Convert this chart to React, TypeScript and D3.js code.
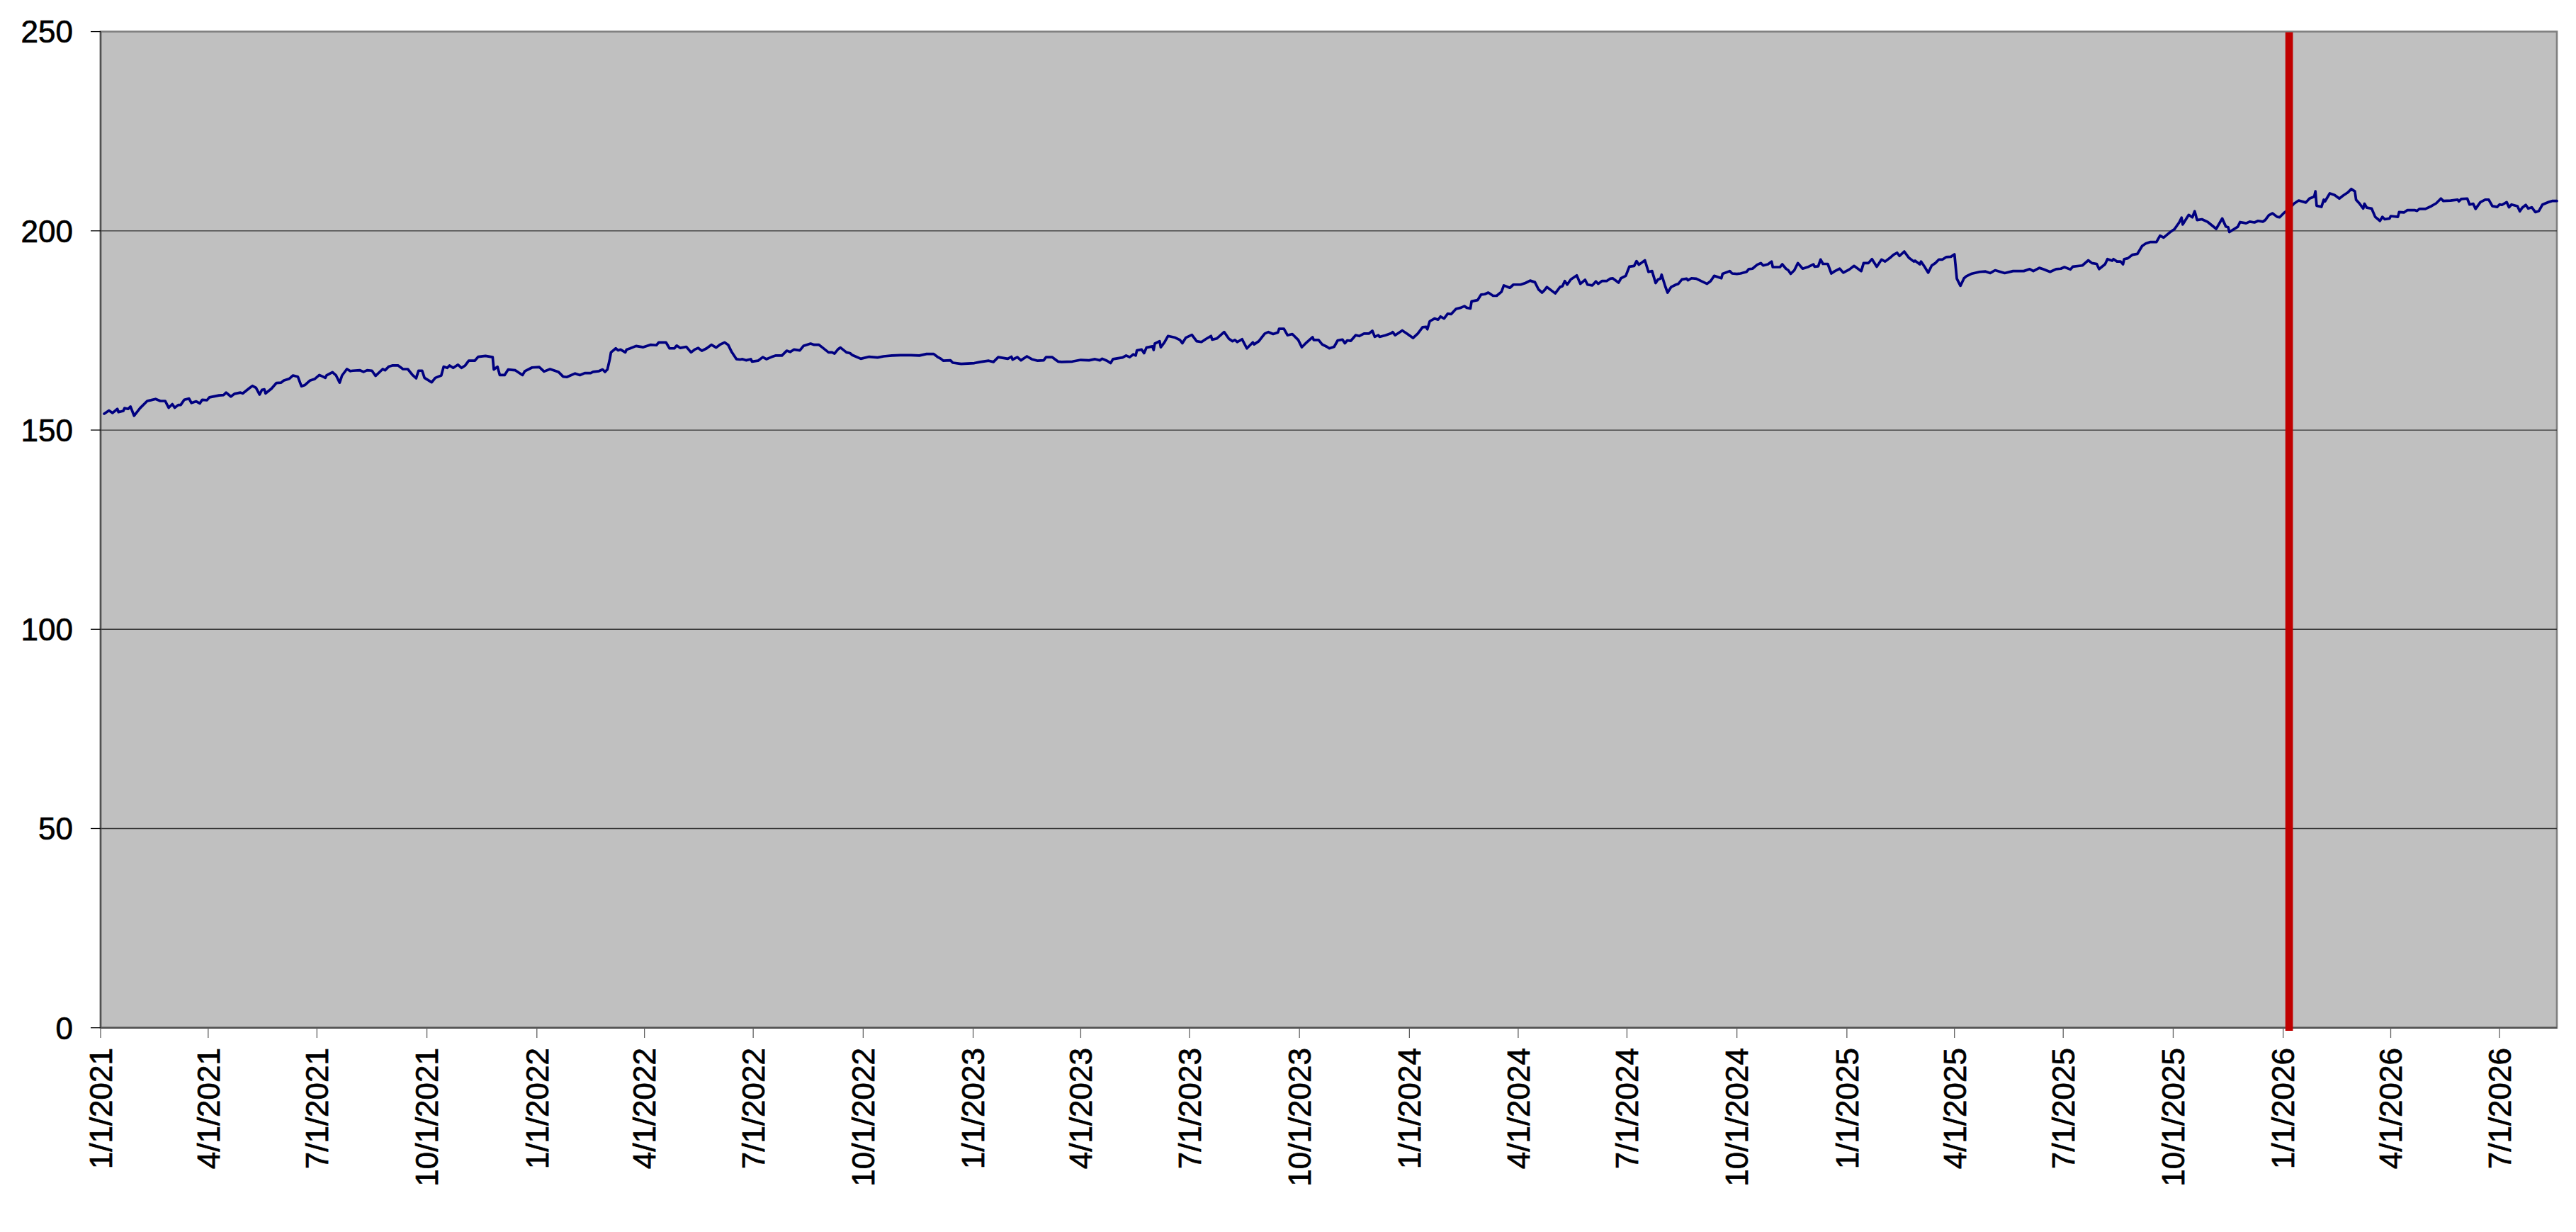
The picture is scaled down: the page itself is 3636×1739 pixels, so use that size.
import React from "react";
import * as d3 from "d3";

// Series start date; x values are day offsets from it
const START_DATE = "2021-01-01";
const END_DATE = "2026-08-18";
const MARKER_DATE = "2026-01-06";

const yTicks = [0, 50, 100, 150, 200, 250];
const gridValues = [50, 100, 150, 200];

const dayOffsets = [
  3, 7, 10, 14, 15, 19, 20, 23, 25, 28, 33, 39, 42, 46, 50, 54, 57, 60, 62, 65, 67, 70, 74, 76, 80, 83, 85, 89, 91, 99,
  103, 105, 109, 112, 117, 119, 124, 127, 130, 133, 135, 137, 138, 143, 147, 151, 153, 158, 161, 165, 168, 171, 175, 179,
  183, 186, 188, 189, 194, 197, 200, 202, 206, 209, 211, 217, 220, 223, 227, 230, 236, 238, 241, 244, 249, 253, 257, 261,
  264, 266, 269, 271, 277, 280, 285, 287, 290, 292, 295, 299, 302, 305, 308, 313, 316, 322, 328, 329, 332, 334, 338, 341,
  347, 349, 353, 355, 361, 367, 371, 376, 380, 383, 387, 390, 397, 401, 405, 410, 412, 417, 420, 422, 424, 426, 427, 431,
  433, 435, 439, 440, 443, 448, 454, 460, 465, 467, 473, 476, 480, 482, 485, 490, 494, 497, 500, 503, 507, 511, 515, 518,
  522, 525, 528, 532, 535, 537, 540, 544, 545, 550, 554, 557, 561, 565, 570, 574, 577, 580, 585, 588, 594, 597, 601, 604,
  609, 612, 614, 617, 619, 624, 627, 629, 636, 643, 650, 655, 662, 669, 678, 685,
  691, 697, 700, 703, 705, 711, 713, 720, 731, 736, 743, 747, 751, 759, 762, 763, 767, 770, 775, 779, 784, 789, 791, 796,
  801, 804, 813, 820, 827, 832, 836, 838, 842, 845, 847, 855, 858, 861, 864, 866, 867, 871, 873, 875, 880, 881, 882, 886,
  887, 890, 893, 899, 903, 905, 908, 913, 917, 921, 925, 929, 930, 934, 937, 940, 944, 947, 949, 951, 955, 959, 964, 965,
  969, 974, 977, 981, 985, 986, 990, 993, 997, 1002, 1005, 1008, 1014, 1015, 1019, 1022, 1026, 1028,
  1032, 1035, 1039, 1041, 1043, 1046, 1050, 1053, 1057, 1061, 1064, 1066, 1069, 1070, 1075, 1080, 1081, 1083, 1089, 1093,
  1098, 1102, 1106, 1109, 1110, 1112, 1116, 1119, 1121, 1124, 1127, 1130, 1134, 1138, 1141, 1143, 1146, 1147, 1152, 1155,
  1158, 1161, 1165, 1168, 1172, 1174, 1179, 1182, 1188, 1192, 1196, 1200, 1203, 1206, 1208, 1210, 1217, 1221, 1223, 1225,
  1227, 1230, 1235, 1238, 1242, 1244, 1248, 1251, 1253, 1256, 1260, 1263, 1265, 1270, 1272, 1276, 1279, 1283, 1285, 1287,
  1292, 1295, 1298, 1301, 1303, 1305, 1306, 1309, 1311, 1314, 1318, 1320, 1323, 1327, 1328, 1331, 1335, 1339, 1344, 1347,
  1350, 1353, 1356, 1357, 1363, 1365, 1369, 1372,
  1377, 1379, 1382, 1386, 1389, 1391, 1395, 1398, 1399, 1405, 1407, 1410, 1412, 1414, 1417, 1420, 1424, 1429, 1433, 1434,
  1437, 1439, 1441, 1445, 1448, 1451, 1455, 1458, 1463, 1467, 1473, 1475, 1479, 1482, 1486, 1490, 1493, 1497, 1500, 1503,
  1505, 1509, 1513, 1517, 1518, 1522, 1523, 1526, 1529, 1532, 1535, 1538, 1541, 1544, 1548, 1551, 1553, 1556, 1559, 1561,
  1565, 1572, 1577, 1581, 1585, 1593, 1600, 1609, 1614, 1617, 1622, 1625, 1631, 1636, 1640, 1643, 1648, 1650, 1658, 1663,
  1666, 1670, 1672, 1677, 1679, 1683, 1684, 1687, 1690, 1692, 1693, 1696, 1700, 1704, 1708, 1711, 1715,
  1720, 1723, 1726, 1732, 1735, 1739, 1741, 1742, 1747, 1750, 1752, 1754, 1758, 1763, 1770, 1775, 1778, 1780, 1781, 1788,
  1790, 1795, 1798, 1802, 1805, 1809, 1811, 1814, 1817, 1821, 1823, 1827, 1830, 1835, 1839, 1845, 1848, 1852, 1853, 1854,
  1858, 1860, 1861, 1865, 1869, 1873, 1876, 1880, 1883, 1886, 1887, 1890, 1893, 1894, 1896, 1900, 1903, 1907, 1909, 1911,
  1915, 1916, 1922, 1923, 1927, 1930, 1936, 1938, 1940, 1945, 1950, 1954, 1958, 1960, 1966, 1972, 1973, 1975, 1980, 1982,
  1985, 1987, 1991, 1995, 1998, 2001, 2005, 2007, 2009, 2013, 2015, 2017, 2022, 2024, 2026, 2029, 2031, 2034, 2037, 2040,
  2043, 2048, 2051, 2055,
];

const values = [
  154.1, 154.9, 154.3, 155.3, 154.5, 154.8, 155.5, 155.3, 155.9, 153.6, 155.5, 157.3, 157.5, 157.8, 157.3, 157.3, 155.6, 156.5, 155.6, 156.3, 156.3, 157.6, 157.9, 156.8, 157.2, 156.7, 157.6, 157.5, 158.2, 158.7,
  158.8, 159.4, 158.4, 159.1, 159.4, 159.2, 160.4, 161.1, 160.6, 158.9, 160.1, 160.2, 159.2, 160.4, 161.8, 161.9, 162.4, 162.9, 163.7, 163.4, 161.0, 161.3, 162.4, 162.8,
  163.8, 163.4, 163.1, 163.7, 164.5, 163.7, 161.9, 163.7, 165.3, 164.8, 164.9, 165.0, 164.6, 165.0, 164.9, 163.6, 165.3, 165.0, 165.9, 166.2, 166.2, 165.3, 165.3, 163.8,
  163.0, 164.9, 164.9, 163.1, 162.0, 163.1, 163.7, 165.9, 165.6, 166.2, 165.6, 166.4, 165.6, 166.2, 167.4, 167.4, 168.4, 168.6, 168.3, 165.2, 165.9, 163.8, 163.8, 165.2,
  165.0, 164.6, 163.8, 164.8, 165.7, 165.8, 164.7, 165.3, 164.9, 164.6, 163.4, 163.3, 164.2, 163.8, 164.3, 164.3, 164.6, 164.8, 165.2, 164.6, 165.2, 167.8, 169.5, 170.5,
  170.0, 170.2, 169.5, 170.2, 170.5, 171.1, 170.8, 171.4, 171.3, 172.0, 172.0, 170.5, 170.5, 171.2, 170.6, 170.9, 169.5, 170.2, 170.6, 169.9, 170.5, 171.4, 170.7, 171.4,
  172.0, 171.4, 169.6, 167.8, 167.7, 167.8, 167.5, 167.8, 167.2, 167.4, 168.3, 167.8, 168.3, 168.7, 168.7, 169.9, 169.6, 170.2, 170.0, 171.1, 171.7, 171.4, 171.4, 170.7,
  169.5, 169.5, 169.2, 170.3, 170.7, 169.5, 169.3, 168.8, 167.9, 168.4, 168.2, 168.5, 168.7, 168.8, 168.8, 168.7,
  169.1, 169.1, 168.4, 167.9, 167.4, 167.5, 166.9, 166.6, 166.8, 167.1, 167.4, 167.1, 168.3, 167.9, 168.4, 167.7, 168.3, 167.5, 168.5, 167.8, 167.4, 167.5, 168.3, 168.3,
  167.2, 167.1, 167.2, 167.6, 167.5, 167.8, 167.5, 167.9, 167.4, 166.8, 167.8, 168.2, 168.7, 168.3, 169.0, 168.7, 170.0, 170.2, 169.3, 170.7, 171.0, 170.1, 171.7, 172.3,
  170.8, 172.0, 173.6, 173.2, 172.6, 171.8, 173.2, 173.9, 172.3, 172.1, 172.9, 173.6, 172.7, 173.0, 173.8, 174.6, 172.9, 172.3, 172.6, 172.1, 172.8, 170.5, 172.0, 171.5,
  172.3, 174.2, 174.6, 174.1, 174.5, 175.4, 175.4, 173.8, 174.1, 172.6, 170.8, 171.7, 173.3, 172.6, 172.6, 171.5, 170.9, 170.5,
  170.9, 172.5, 172.7, 171.8, 172.5, 172.4, 173.8, 173.6, 174.2, 174.2, 174.9, 173.4, 173.8, 173.4, 173.8, 174.3, 174.6, 173.8, 175.0, 174.2,
  173.1, 174.2, 175.8, 175.9, 175.3, 177.3, 178.0, 177.7, 178.5, 178.0, 179.2, 179.1, 180.4, 180.7, 181.1, 180.7, 180.5, 182.3, 182.6, 184.0,
  184.1, 184.5, 183.7, 183.7, 184.7, 186.3, 185.7, 186.5, 186.5, 186.9, 187.5, 187.1, 185.3, 184.5, 185.1, 185.9, 184.3, 185.9, 186.1, 187.4,
  186.5, 187.8, 188.8, 186.7, 187.7, 186.5, 186.3, 187.3, 186.7, 187.4, 187.4, 188.0, 188.1, 187.0, 188.1, 188.7, 191.0, 191.2, 192.4, 191.5,
  192.6, 189.7, 189.9, 186.9, 187.8, 188.0, 189.0, 186.1, 184.5, 185.9, 186.5, 186.7, 187.8, 188.0, 187.6, 188.1, 188.0, 187.4, 186.7, 187.4,
  188.7, 188.4, 188.1, 189.2, 189.9, 189.3, 189.2, 189.3,
  189.7, 190.4, 190.5, 191.5, 191.9, 191.3, 191.6, 192.3, 190.9, 190.9, 191.6, 190.5, 190.1, 189.2, 190.1, 191.9, 190.5, 191.0, 191.6, 191.0,
  191.1, 192.8, 191.7, 191.7, 189.3, 189.9, 190.5, 189.5, 190.3, 191.2, 189.9, 191.9, 191.9, 192.9, 191.0, 192.8, 192.3, 193.2, 194.0, 194.5,
  193.7, 194.8, 193.2, 192.3, 192.5, 191.6, 192.3, 191.0, 189.5, 191.3, 191.9, 192.8, 192.8, 193.4, 193.5, 194.1, 188.0, 186.2, 188.1, 188.6,
  189.2, 189.7, 189.8, 189.4, 190.1, 189.4, 189.9, 189.9, 190.4, 189.9, 190.7, 190.4, 189.7, 190.4, 190.5, 190.9, 190.3, 191.0, 191.3, 192.6,
  191.9, 191.7, 190.4, 191.6, 192.9, 192.5, 192.9, 192.3, 192.3, 191.6, 192.9, 193.1, 194.0, 194.2, 196.2, 196.8, 197.2,
  197.2, 198.8, 198.3, 199.8, 200.4, 202.1, 203.3, 201.6, 204.0, 203.4, 204.9, 202.7, 202.9, 202.2, 200.5, 203.1, 201.1, 200.9, 199.7, 201.0,
  202.2, 201.9, 202.3, 202.1, 202.5, 202.3, 202.7, 203.9, 204.4, 203.5, 203.4, 204.6, 205.2, 206.8, 207.6, 207.1, 208.1, 208.6, 209.9, 206.3,
  206.0, 207.8, 207.4, 209.4, 209.0, 208.1, 208.8, 209.6, 210.5, 209.9, 207.8, 206.8, 205.6, 206.8, 205.8, 205.6, 203.5, 202.5, 203.5, 202.9,
  203.1, 203.7, 203.5, 204.7, 204.6, 205.2, 205.2, 205.0, 205.5, 205.5, 206.2, 206.9, 208.1, 207.5, 207.6, 207.8, 207.4, 208.0, 208.1, 206.6,
  206.8, 205.5, 207.2, 207.8, 207.8, 206.2, 206.0, 206.6, 206.5, 207.2, 205.9, 206.6, 206.2, 204.9, 205.8, 206.5, 205.6, 205.9, 204.7, 205.0,
  206.6, 207.2, 207.5, 207.5,
];

const W = 3636;
const H = 1739;
const LEFT = 142;
const RIGHT = 3609;
const TOP = 44.6;
const BOTTOM = 1450.7;
const FONT = "'Liberation Sans', Arial, Helvetica, sans-serif";

const DAY = 86400000;
const start = new Date(START_DATE + "T00:00:00Z");
const end = new Date(END_DATE + "T00:00:00Z");
const marker = new Date(MARKER_DATE + "T00:00:00Z");

const points = dayOffsets.map((d, i) => ({ date: new Date(start.getTime() + d * DAY), value: values[i] }));

const x = d3.scaleUtc().domain([start, end]).range([LEFT, RIGHT]);
const y = d3.scaleLinear().domain([0, 250]).range([BOTTOM, TOP]);

const xTicks = d3.utcMonth.every(3)!.range(start, d3.utcDay.offset(end, 1));
const fmt = (d: Date) => `${d.getUTCMonth() + 1}/${d.getUTCDate()}/${d.getUTCFullYear()}`;

const linePath = d3
  .line<{ date: Date; value: number }>()
  .x((p) => x(p.date))
  .y((p) => y(p.value))(points) as string;

export default function App() {
  const mx = x(marker);
  return (
    <svg
      width={W}
      height={H}
      viewBox={`0 0 ${W} ${H}`}
      style={{ position: "absolute", left: 0, top: 0, display: "block", background: "#fff" }}
    >
      <rect x={0} y={0} width={W} height={H} fill="#fff" />
      <rect
        x={LEFT}
        y={TOP}
        width={RIGHT - LEFT}
        height={BOTTOM - TOP}
        fill="#C0C0C0"
        stroke="#808080"
        strokeWidth={2.6}
      />
      {gridValues.map((v) => (
        <line key={v} x1={LEFT} x2={RIGHT} y1={y(v)} y2={y(v)} stroke="#333" strokeWidth={1.3} />
      ))}
      {/* axes */}
      <line x1={LEFT} x2={LEFT} y1={TOP} y2={BOTTOM} stroke="#505050" strokeWidth={2.4} />
      <line x1={LEFT} x2={RIGHT} y1={BOTTOM} y2={BOTTOM} stroke="#505050" strokeWidth={2.4} />
      {yTicks.map((v) => (
        <g key={v}>
          <line x1={128} x2={LEFT} y1={y(v)} y2={y(v)} stroke="#000" strokeWidth={1.3} />
          <text
            x={103}
            y={y(v)}
            dy="0.36em"
            textAnchor="end"
            fontFamily={FONT}
            fontSize={44}
            fill="#000"
            stroke="#000"
            strokeWidth={0.7}
          >
            {v}
          </text>
        </g>
      ))}
      {xTicks.map((t) => (
        <g key={t.getTime()}>
          <line x1={x(t)} x2={x(t)} y1={BOTTOM} y2={1465} stroke="#606060" strokeWidth={1.3} />
          <text
            transform={`translate(${x(t)},1479) rotate(-90)`}
            dy="0.36em"
            textAnchor="end"
            fontFamily={FONT}
            fontSize={44}
            fill="#000"
            stroke="#000"
            strokeWidth={0.7}
          >
            {fmt(t)}
          </text>
        </g>
      ))}
      <path d={linePath} fill="none" stroke="#000080" strokeWidth={3.7} strokeLinejoin="round" strokeLinecap="round" />
      <line x1={mx} x2={mx} y1={TOP + 1} y2={1455} stroke="#C00000" strokeWidth={10.7} />
    </svg>
  );
}
